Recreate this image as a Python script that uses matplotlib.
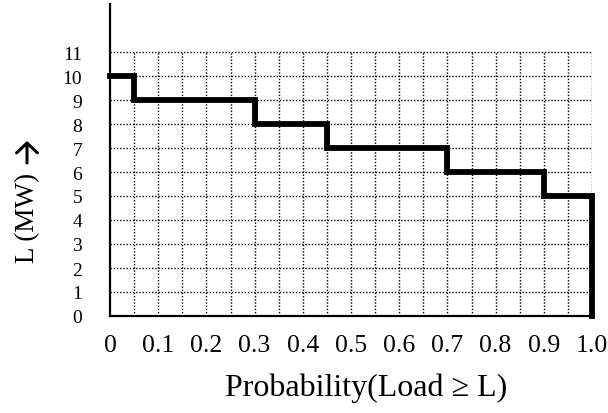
import numpy as np
import matplotlib
matplotlib.use("Agg")
import matplotlib.pyplot as plt

plt.rcParams['font.family'] = ['Liberation Serif', 'DejaVu Serif']

# Load duration steps: probability breakpoints and load level (MW)
prob_edges = [0, 0.05, 0.3, 0.45, 0.7, 0.9, 1.0]
load_mw = [10, 9, 8, 7, 6, 5]

x_ticks = [0, 0.1, 0.2, 0.3, 0.4, 0.5, 0.6, 0.7, 0.8, 0.9, 1.0]
x_labels = ['0', '0.1', '0.2', '0.3', '0.4', '0.5', '0.6', '0.7', '0.8', '0.9', '1.0']
y_ticks = list(range(0, 12))

W, H = 608, 414
fig = plt.figure(figsize=(W/100, H/100), dpi=100)
ax = fig.add_axes([110/W, 97/H, 482/W, 312/H])

# dotted grid, only over the 0..1 x 0..11 area
for gx in np.arange(0.05, 1.0001, 0.05):
    ax.plot([gx, gx], [0, 11], color='black', lw=1.0, ls=(0, (1, 1.3)), zorder=1)
for gy in y_ticks[1:]:
    ax.plot([0, 1.0], [gy, gy], color='black', lw=1.0, ls=(0, (1, 1.3)), zorder=1)

# step curve
xs = list(prob_edges) + [prob_edges[-1]]
ys = list(load_mw) + [load_mw[-1], 0]
ax.plot(xs, ys, drawstyle='steps-post', color='black', lw=4.2,
        solid_joinstyle='miter', clip_on=False, zorder=3)

ax.set_xlim(0, 1.0)
ax.set_ylim(0, 13)
for s in ['top', 'right']:
    ax.spines[s].set_visible(False)
ax.spines['left'].set_linewidth(1.6)
ax.spines['bottom'].set_linewidth(1.6)

ax.set_xticks(x_ticks)
ax.set_xticklabels(x_labels, fontsize=18.5)
ax.set_yticks(y_ticks)
ax.set_yticklabels([str(v) for v in y_ticks], fontsize=14)
ax.tick_params(axis='x', length=0, pad=13)
ax.tick_params(axis='y', length=0, pad=20)

ax.set_xlabel('Probability(Load \u2265 L)', fontsize=23)
ax.xaxis.set_label_coords((366 - 110) / 482, (317 - 374) / 312)

# y label text plus a hand drawn arrow above it
fig.text(28/W, 1 - 218/H, 'L (MW)', rotation=90, fontsize=19.5,
         ha='center', va='center')
fig.add_artist(plt.Annotation('', xy=(27/W, 1 - 142/H), xytext=(27/W, 1 - 164/H),
                              xycoords='figure fraction', textcoords='figure fraction',
                              arrowprops=dict(arrowstyle='->,head_length=0.7,head_width=0.75',
                                              lw=2.2, color='black',
                                              shrinkA=0, shrinkB=0)))

fig.savefig('out.png', dpi=100)
